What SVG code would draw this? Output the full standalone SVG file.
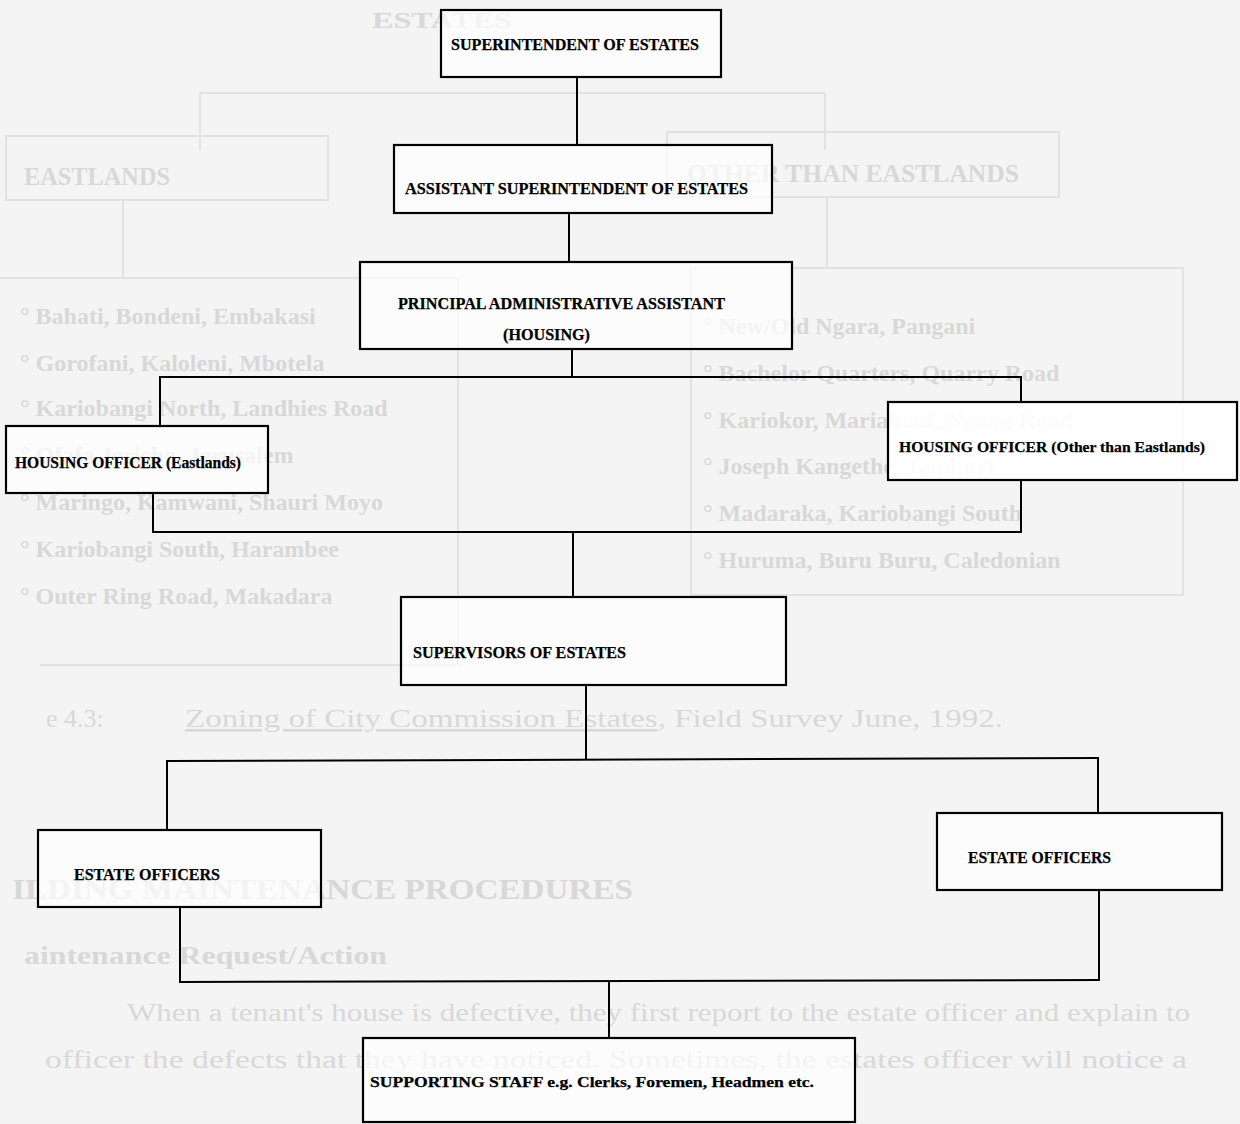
<svg xmlns="http://www.w3.org/2000/svg" width="1240" height="1124" viewBox="0 0 1240 1124">
<style>
.node rect{fill:#ffffff;fill-opacity:0.7;stroke:#000;stroke-width:2.2}
.lbl{font-family:"Liberation Serif","Times New Roman",serif;font-weight:bold;fill:#000;stroke:#000;stroke-width:0.25}
.conn line{stroke:#000;stroke-width:2}
.gt{font-family:"Liberation Serif","Times New Roman",serif;fill:#d8d8d8}
.gl{stroke:#e2e2e2;stroke-width:2;fill:none}
</style>
<rect x="0" y="0" width="1240" height="1124" fill="#f4f4f4"/>
<g id="ghost">
<text class="gt" x="372" y="28" font-size="24" font-weight="bold" textLength="140" lengthAdjust="spacingAndGlyphs">ESTATES</text>
<path class="gl" d="M200,93 H825 M200,93 V150 M825,93 V150"/>
<rect class="gl" x="6" y="136" width="322" height="64"/>
<text class="gt" x="24" y="185" font-size="26" font-weight="bold" textLength="146" lengthAdjust="spacingAndGlyphs">EASTLANDS</text>
<rect class="gl" x="667" y="132" width="392" height="65"/>
<text class="gt" x="687" y="182" font-size="26" font-weight="bold" textLength="332" lengthAdjust="spacingAndGlyphs">OTHER THAN EASTLANDS</text>
<path class="gl" d="M123,200 V278 M827,197 V268 M0,278 H458 M458,278 V665 M40,665 H462"/>
<rect class="gl" x="691" y="268" width="492" height="327"/>
<g font-size="24" font-weight="bold">
<text class="gt" x="20" y="324">° Bahati, Bondeni, Embakasi</text>
<text class="gt" x="20" y="371">° Gorofani, Kaloleni, Mbotela</text>
<text class="gt" x="20" y="416">° Kariobangi North, Landhies Road</text>
<text class="gt" x="20" y="463">° Ofafa Jericho, Jerusalem</text>
<text class="gt" x="20" y="510">° Maringo, Kamwani, Shauri Moyo</text>
<text class="gt" x="20" y="557">° Kariobangi South, Harambee</text>
<text class="gt" x="20" y="604">° Outer Ring Road, Makadara</text>
<text class="gt" x="703" y="334">° New/Old Ngara, Pangani</text>
<text class="gt" x="703" y="381">° Bachelor Quarters, Quarry Road</text>
<text class="gt" x="703" y="428">° Kariokor, Mariakani, Ngong Road</text>
<text class="gt" x="703" y="474">° Joseph Kangethe, Jamhuri</text>
<text class="gt" x="703" y="521">° Madaraka, Kariobangi South</text>
<text class="gt" x="703" y="568">° Huruma, Buru Buru, Caledonian</text>
</g>
<text class="gt" x="46" y="727" font-size="26">e 4.3:</text>
<text class="gt" x="185" y="727" font-size="26" textLength="818" lengthAdjust="spacingAndGlyphs"><tspan text-decoration="underline">Zoning of City Commission Estates</tspan>, Field Survey June, 1992.</text>
<text class="gt" x="12" y="899" font-size="29" font-weight="bold" textLength="621" lengthAdjust="spacingAndGlyphs">ILDING MAINTENANCE PROCEDURES</text>
<text class="gt" x="24" y="964" font-size="25" font-weight="bold" textLength="363" lengthAdjust="spacingAndGlyphs">aintenance Request/Action</text>
<text class="gt" x="127" y="1021" font-size="26" textLength="1063" lengthAdjust="spacingAndGlyphs">When a tenant's house is defective, they first report to the estate officer and explain to</text>
<text class="gt" x="45" y="1068" font-size="26" textLength="1142" lengthAdjust="spacingAndGlyphs">officer the defects that they have noticed. Sometimes, the estates officer will notice a</text>
</g>
<g id="connectors" class="conn">
<line x1="577" y1="77" x2="577" y2="145"/>
<line x1="569" y1="213" x2="569" y2="262"/>
<line x1="572" y1="349" x2="572" y2="377"/>
<line x1="159" y1="377" x2="1022" y2="377"/>
<line x1="160" y1="377" x2="160" y2="426"/>
<line x1="1021" y1="376" x2="1021" y2="402"/>
<line x1="1021" y1="480" x2="1021" y2="533"/>
<line x1="153" y1="493" x2="153" y2="533"/>
<line x1="152" y1="532" x2="1022" y2="532"/>
<line x1="573" y1="532" x2="573" y2="597"/>
<line x1="586" y1="685" x2="586" y2="760"/>
<line x1="166" y1="761" x2="1099" y2="758"/>
<line x1="167" y1="760" x2="167" y2="830"/>
<line x1="1098" y1="758" x2="1098" y2="813"/>
<line x1="180" y1="907" x2="180" y2="982"/>
<line x1="1099" y1="890" x2="1099" y2="980"/>
<line x1="179" y1="982" x2="1100" y2="980"/>
<line x1="609" y1="981" x2="609" y2="1038"/>
</g>
<g id="n-superintendent" class="node">
<rect x="441" y="10" width="280" height="67"/>
<text class="lbl" x="451" y="50" font-size="17" textLength="248" lengthAdjust="spacingAndGlyphs">SUPERINTENDENT OF ESTATES</text>
</g>
<g id="n-assistant" class="node">
<rect x="394" y="145" width="378" height="68"/>
<text class="lbl" x="405" y="194" font-size="17" textLength="343" lengthAdjust="spacingAndGlyphs">ASSISTANT SUPERINTENDENT OF ESTATES</text>
</g>
<g id="n-principal" class="node">
<rect x="360" y="262" width="432" height="87"/>
<text class="lbl" x="398" y="309" font-size="16" textLength="327" lengthAdjust="spacingAndGlyphs">PRINCIPAL ADMINISTRATIVE ASSISTANT</text>
<text class="lbl" x="503" y="340" font-size="16" textLength="87" lengthAdjust="spacingAndGlyphs">(HOUSING)</text>
</g>
<g id="n-ho-eastlands" class="node">
<rect x="6" y="426" width="262" height="67"/>
<text class="lbl" x="15" y="468" font-size="16" textLength="226" lengthAdjust="spacingAndGlyphs">HOUSING OFFICER (Eastlands)</text>
</g>
<g id="n-ho-other" class="node">
<rect x="888" y="402" width="349" height="78" style="fill-opacity:0.9"/>
<text class="lbl" x="899" y="452" font-size="15" textLength="306" lengthAdjust="spacingAndGlyphs">HOUSING OFFICER (Other than Eastlands)</text>
</g>
<g id="n-supervisors" class="node">
<rect x="401" y="597" width="385" height="88"/>
<text class="lbl" x="413" y="658" font-size="17" textLength="213" lengthAdjust="spacingAndGlyphs">SUPERVISORS OF ESTATES</text>
</g>
<g id="n-eo-left" class="node">
<rect x="38" y="830" width="283" height="77"/>
<text class="lbl" x="74" y="880" font-size="17" textLength="146" lengthAdjust="spacingAndGlyphs">ESTATE OFFICERS</text>
</g>
<g id="n-eo-right" class="node">
<rect x="937" y="813" width="285" height="77"/>
<text class="lbl" x="968" y="863" font-size="17" textLength="143" lengthAdjust="spacingAndGlyphs">ESTATE OFFICERS</text>
</g>
<g id="n-staff" class="node">
<rect x="363" y="1038" width="492" height="84"/>
<text class="lbl" x="370" y="1087" font-size="15" textLength="444" lengthAdjust="spacingAndGlyphs">SUPPORTING STAFF e.g. Clerks, Foremen, Headmen etc.</text>
</g>
</svg>
